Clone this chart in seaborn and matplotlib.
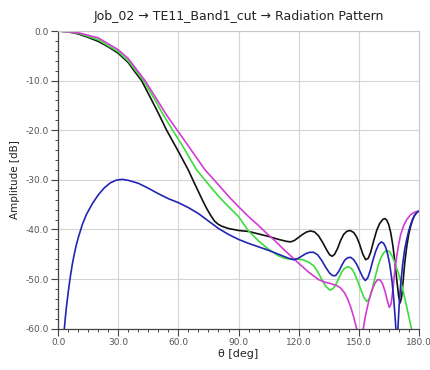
import matplotlib
matplotlib.use("Agg")
import matplotlib.pyplot as plt
from matplotlib.ticker import MultipleLocator, FormatStrFormatter
import seaborn as sns
import pandas as pd

# Far-field cuts, amplitude in dB versus theta in degrees
theta_black = [0, 5, 10, 15, 20, 25, 30, 35, 38, 41.6, 46.6, 50, 54.1, 60, 64.9, 68, 70,
               72, 74, 76, 78, 80, 82, 85, 90, 95, 100, 105, 110, 114, 116, 118, 120, 122,
               124, 126, 128, 130, 132, 134, 135.5, 136.8, 138, 139.5, 141, 142.5, 144,
               145.7, 147.5, 149, 150.5, 152, 153.5, 154.8, 156, 157.5, 159, 160.5, 162,
               163, 164, 165, 166, 167, 168, 169, 170, 170.7, 171.4, 172.2, 173, 174, 175,
               176, 177, 178, 179, 180]
amp_black = [0, -0.15, -0.6, -1.3, -2.1, -3.2, -4.5, -6.4, -8.1, -10.0, -13.9, -16.6,
             -20.0, -24.3, -28.0, -30.7, -32.4, -34.1, -35.7, -37.1, -38.3, -39.0, -39.4,
             -39.8, -40.2, -40.4, -40.9, -41.4, -42.0, -42.4, -42.5, -42.2, -41.6, -41.0,
             -40.5, -40.3, -40.5, -41.3, -42.6, -44.1, -45.1, -45.4, -45.0, -43.8, -42.2,
             -41.0, -40.4, -40.2, -40.6, -41.5, -43.0, -44.9, -46.1, -45.8, -44.6, -42.3,
             -40.2, -38.8, -38.0, -37.8, -38.1, -39.0, -40.6, -43.0, -46.2, -50.0, -53.5,
             -54.8, -53.8, -50.5, -46.8, -43.5, -41.0, -39.3, -38.0, -37.1, -36.6, -36.3]

theta_green = [0, 10, 20, 30, 35, 42.5, 48.3, 52, 57.1, 62, 65, 69.1, 75, 80, 85, 90, 95,
               100, 105, 110, 113, 116, 119, 122, 125, 127.5, 129.5, 131.5, 133.5, 135.5,
               137, 138.5, 140, 141.5, 143, 144.8, 146.5, 148, 149.5, 151, 152.5, 154,
               155.3, 156.5, 158, 159.5, 161, 162.5, 164, 165.5, 167, 168.5, 170, 171.5,
               173, 174.5, 176.5]
amp_green = [0, -0.45, -1.8, -4.2, -6.1, -10.0, -13.9, -16.6, -20.0, -23.1, -25.2, -28.0,
             -30.9, -33.3, -35.4, -37.4, -40.3, -42.3, -44.0, -45.3, -45.8, -46.0, -45.9,
             -46.1, -46.6, -47.3, -48.5, -50.0, -51.4, -52.2, -52.0, -51.2, -49.9, -48.6,
             -47.8, -47.5, -47.9, -48.9, -50.4, -52.0, -53.6, -54.5, -54.0, -52.5, -50.0,
             -47.6, -45.8, -44.7, -44.2, -44.5, -45.6, -47.2, -49.0, -51.2, -53.8, -56.5,
             -60.2]

theta_magenta = [0, 10, 20, 30, 35, 43.3, 49.4, 54, 59.4, 65, 73.3, 80, 85, 90, 95, 100,
                 104.1, 108, 112, 116, 120, 125, 130, 133, 136, 139, 141, 143, 144.5, 146,
                 147.5, 149, 150.6, 152.3, 153.5, 155, 156.5, 158, 159.5, 160.8, 162,
                 163.2, 164.3, 165.3, 166.2, 167, 168, 169, 170, 171, 172.5, 174, 176,
                 178, 180]
amp_magenta = [0, -0.35, -1.4, -3.8, -5.6, -10.0, -13.9, -16.9, -20.0, -23.2, -28.0, -31.0,
               -33.3, -35.4, -37.4, -39.2, -40.8, -42.2, -43.8, -45.3, -46.8, -48.6, -50.1,
               -50.6, -50.9, -51.3, -51.8, -52.8, -54.0, -55.6, -57.6, -60.0, -64.0, -60.0,
               -57.2, -54.5, -52.4, -50.9, -50.1, -50.2, -51.0, -52.5, -54.3, -55.7, -55.0,
               -52.5, -48.5, -45.5, -43.0, -41.0, -39.2, -38.0, -37.0, -36.5, -36.3]

theta_blue = [2.7, 3, 3.5, 4, 5, 6, 7, 8, 9, 10, 12, 14, 17, 20, 23, 26, 29, 32, 35, 40,
              45, 50, 55, 60, 65, 70, 75, 80, 85, 90, 95, 100, 105, 110, 115, 117.5, 119.5,
              121.5, 123.5, 125.5, 127.5, 129.5, 131.5, 133.5, 135.5, 137, 138.5, 140,
              141.5, 143, 144.5, 146, 147.5, 149, 150.5, 152, 153.3, 154.5, 155.7, 157,
              158.5, 160, 161.3, 162.5, 163.5, 164.5, 165.5, 166.5, 167.3, 168, 168.6,
              169.1, 169.6, 170.2, 171, 172, 173, 174, 175, 176, 177, 178, 179, 180]
amp_blue = [-62.0, -60.0, -57.8, -55.8, -52.5, -49.5, -47.0, -44.9, -43.1, -41.6, -39.0,
            -37.0, -34.8, -33.0, -31.6, -30.6, -30.05, -29.9, -30.1, -30.7, -31.7, -32.8,
            -33.8, -34.6, -35.6, -36.8, -38.3, -39.8, -41.0, -42.0, -42.8, -43.5, -44.2,
            -45.0, -45.8, -46.1, -45.9, -45.4, -44.9, -44.6, -44.6, -45.1, -46.2, -47.6,
            -48.8, -49.3, -49.3, -48.5, -47.3, -46.2, -45.7, -45.6, -46.1, -47.0, -48.3,
            -49.6, -50.3, -49.8, -48.4, -46.4, -44.4, -43.0, -42.5, -42.8, -43.6, -45.0,
            -47.0, -49.8, -53.0, -56.5, -60.0, -64.0, -60.0, -55.5, -51.0, -47.0, -44.0,
            -42.0, -40.3, -39.0, -37.9, -37.1, -36.6, -36.3]

title_text = "Job_02 \u2192 TE11_Band1_cut \u2192 Radiation Pattern"
x_label = "\u03b8 [deg]"
y_label = "Amplitude [dB]"

sns.set_style("white")
plt.rcParams["font.family"] = ["DejaVu Sans"]

fig = plt.figure(figsize=(4.31, 3.70), dpi=100)
ax = fig.add_axes([0.1353, 0.1116, 0.8362, 0.8046])

series = [
    (theta_black, amp_black, "#111111"),
    (theta_green, amp_green, "#3ddc3d"),
    (theta_magenta, amp_magenta, "#d23cd2"),
    (theta_blue, amp_blue, "#2424b4"),
]
for th, amp, col in series:
    df = pd.DataFrame({"theta": th, "amp": amp})
    sns.lineplot(data=df, x="theta", y="amp", sort=False, color=col, lw=1.2, ax=ax)

ax.set_xlim(0, 180)
ax.set_ylim(-60, 0)
ax.xaxis.set_major_locator(MultipleLocator(30))
ax.xaxis.set_minor_locator(MultipleLocator(5))
ax.yaxis.set_major_locator(MultipleLocator(10))
ax.yaxis.set_minor_locator(MultipleLocator(2))
ax.xaxis.set_major_formatter(FormatStrFormatter("%.1f"))
ax.yaxis.set_major_formatter(FormatStrFormatter("%.1f"))

ax.grid(True, which="major", color="#d4d4d4", lw=0.8)
ax.set_axisbelow(True)

for side in ("top", "right"):
    ax.spines[side].set_color("#c8c8c8")
    ax.spines[side].set_linewidth(0.8)
for side in ("left", "bottom"):
    ax.spines[side].set_color("#444444")
    ax.spines[side].set_linewidth(0.9)

ax.tick_params(which="major", direction="out", length=5, width=0.8, color="#444444",
               labelsize=6.5, labelcolor="#555555", pad=2,
               bottom=True, left=True, top=False, right=False)
ax.tick_params(which="minor", direction="out", length=2.5, width=0.7, color="#444444",
               bottom=True, left=True, top=False, right=False)

ax.set_xlabel(x_label, fontsize=8, color="#222222", labelpad=1)
ax.set_ylabel(y_label, fontsize=7.5, color="#222222", labelpad=4)
ax.set_title(title_text, fontsize=9, color="#222222", pad=8)

fig.savefig("out.png", dpi=100)
